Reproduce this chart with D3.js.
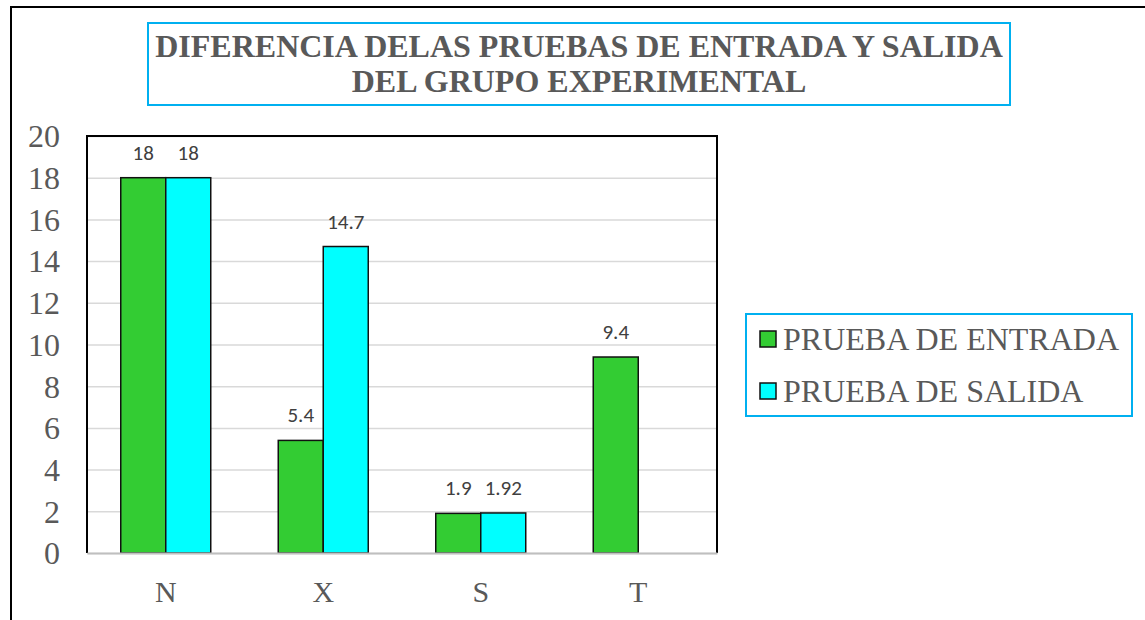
<!DOCTYPE html>
<html lang="es">
<head>
<meta charset="utf-8">
<title>Diferencia de las pruebas</title>
<script src="https://d3js.org/d3.v7.min.js"></script>
<style>
  body { margin: 0; background: #fff; }
  svg { display: block; }
</style>
</head>
<body>
<div id="chart"></div>
<script>
// data
var categorias = ["N", "X", "S", "T"];
var series = ["PRUEBA DE ENTRADA", "PRUEBA DE SALIDA"];
var entrada = [18, 5.4, 1.9, 9.4];
var salida = [18, 14.7, 1.92, null];
var yTicks = [0, 2, 4, 6, 8, 10, 12, 14, 16, 18, 20];
var tituloLineas = ["DIFERENCIA DELAS PRUEBAS DE ENTRADA Y SALIDA", "DEL GRUPO EXPERIMENTAL"];

var colores = ["#33cc33", "#00ffff"];
var W = 1145, H = 620;
var plot = { left: 87, right: 717, top: 136, bottom: 553 };
var serif = "'Liberation Serif', 'Times New Roman', serif";

var svg = d3.select("#chart").append("svg")
  .attr("width", W).attr("height", H);

// outer chart frame (runs off right/bottom edges)
svg.append("rect")
  .attr("x", 11).attr("y", 7)
  .attr("width", W + 20).attr("height", H + 20)
  .attr("fill", "#fff").attr("stroke", "#000").attr("stroke-width", 2);

// title box
svg.append("rect")
  .attr("x", 148).attr("y", 23).attr("width", 862).attr("height", 82)
  .attr("fill", "#fff").attr("stroke", "#00b0f0").attr("stroke-width", 2);

svg.selectAll(".titulo")
  .data(tituloLineas)
  .enter().append("text")
  .attr("class", "titulo")
  .attr("x", 579)
  .attr("y", function(d, i) { return 57 + i * 35; })
  .attr("text-anchor", "middle")
  .style("font-family", serif)
  .style("font-weight", "bold")
  .style("font-size", "32px")
  .style("fill", "#595959")
  .text(function(d) { return d; });

// scales
var x0 = d3.scaleBand()
  .domain(categorias)
  .range([plot.left, plot.right])
  .paddingInner(0.4286)
  .paddingOuter(0.2143);

var x1 = d3.scaleBand()
  .domain(series)
  .range([0, x0.bandwidth()]);

var y = d3.scaleLinear()
  .domain([0, 20])
  .range([plot.bottom, plot.top]);

// gridlines
svg.append("g")
  .attr("class", "grid")
  .attr("transform", "translate(" + plot.left + ",0)")
  .call(d3.axisLeft(y).tickValues(yTicks).tickSize(-(plot.right - plot.left)).tickFormat(""))
  .call(function(g) {
    g.select(".domain").remove();
    g.selectAll("line").attr("stroke", "#d9d9d9").attr("stroke-width", 1.5);
  });

// y tick labels
svg.append("g")
  .attr("transform", "translate(60,0)")
  .call(d3.axisLeft(y).tickValues(yTicks).tickSize(0).tickPadding(0))
  .call(function(g) {
    g.select(".domain").remove();
    g.selectAll("text")
      .attr("dy", "0.34em")
      .style("font-family", serif)
      .style("font-size", "32px")
      .style("fill", "#595959");
  });

// bars
var filas = categorias.map(function(c, i) {
  return { cat: c, vals: [entrada[i], salida[i]] };
});

var grupos = svg.selectAll(".grupo")
  .data(filas)
  .enter().append("g")
  .attr("class", "grupo")
  .attr("transform", function(d) { return "translate(" + x0(d.cat) + ",0)"; });

var celdas = grupos.selectAll(".barra")
  .data(function(d) {
    return d.vals.map(function(v, j) { return { s: series[j], j: j, v: v }; })
      .filter(function(e) { return e.v != null; });
  })
  .enter();

celdas.append("rect")
  .attr("class", "barra")
  .attr("x", function(d) { return x1(d.s); })
  .attr("y", function(d) { return y(d.v); })
  .attr("width", x1.bandwidth())
  .attr("height", function(d) { return y(0) - y(d.v); })
  .attr("fill", function(d) { return colores[d.j]; })
  .attr("stroke", "#111")
  .attr("stroke-width", 1.5);

celdas.append("text")
  .attr("x", function(d) { return x1(d.s) + x1.bandwidth() / 2; })
  .attr("y", function(d) { return y(d.v) - 18; })
  .attr("text-anchor", "middle")
  .style("font-family", "Carlito, Lato, 'Open Sans', sans-serif")
  .style("font-size", "21px")
  .style("fill", "#404040")
  .text(function(d) { return d.v; });

// plot frame: black top/left/right, grey baseline
svg.append("path")
  .attr("d", "M" + plot.left + "," + plot.bottom + "V" + plot.top + "H" + plot.right + "V" + plot.bottom)
  .attr("fill", "none").attr("stroke", "#000").attr("stroke-width", 2);

svg.append("g")
  .attr("transform", "translate(0," + plot.bottom + ")")
  .call(d3.axisBottom(x0).tickSize(0).tickPadding(28))
  .call(function(g) {
    g.select(".domain").attr("stroke", "#bfbfbf").attr("stroke-width", 2);
    g.selectAll("text")
      .style("font-family", serif)
      .style("font-size", "30px")
      .style("fill", "#595959");
  });

// legend
svg.append("rect")
  .attr("x", 746).attr("y", 314).attr("width", 386).attr("height", 102)
  .attr("fill", "#fff").attr("stroke", "#00b0f0").attr("stroke-width", 2);

var leyenda = svg.selectAll(".ley")
  .data(series)
  .enter().append("g")
  .attr("class", "ley")
  .attr("transform", function(d, i) { return "translate(760," + (331 + i * 52) + ")"; });

leyenda.append("rect")
  .attr("width", 16).attr("height", 16)
  .attr("fill", function(d, i) { return colores[i]; })
  .attr("stroke", "#111").attr("stroke-width", 1.5);

leyenda.append("text")
  .attr("x", 23).attr("y", 19)
  .style("font-family", serif)
  .style("font-size", "32px")
  .style("fill", "#595959")
  .text(function(d) { return d; });
</script>
</body>
</html>
